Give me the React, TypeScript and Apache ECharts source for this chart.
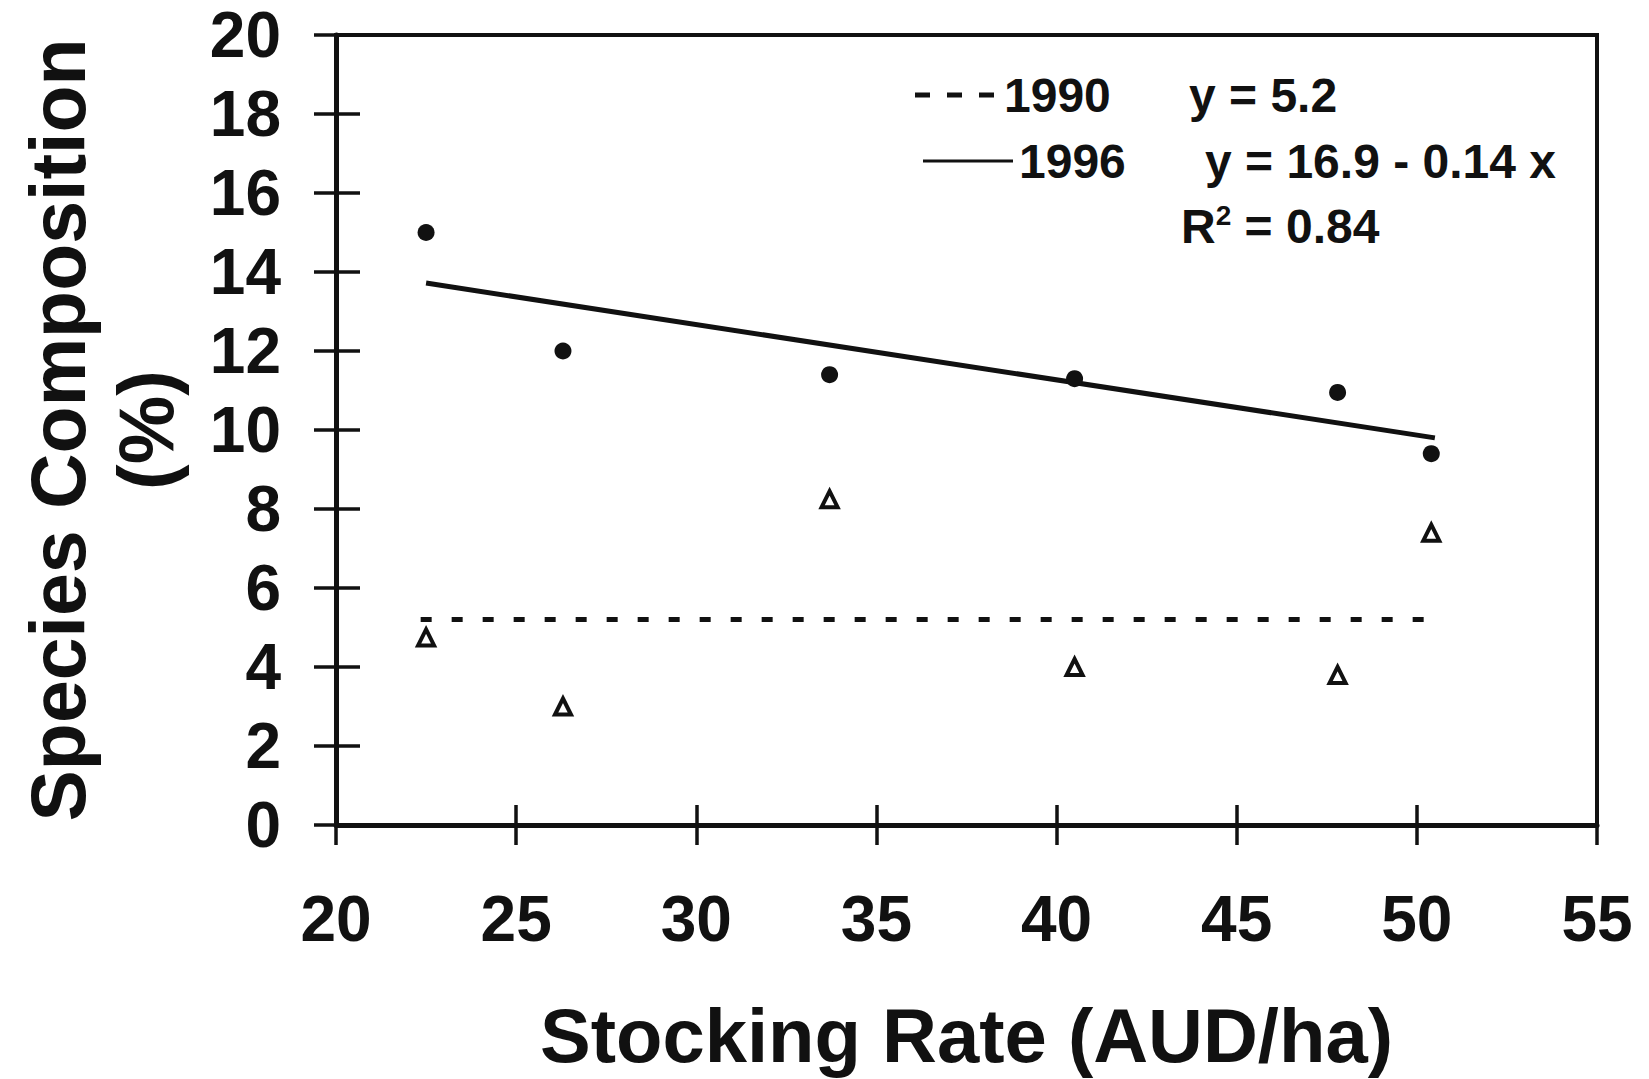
import React, { useEffect, useRef } from "react";
import * as echarts from "echarts";

// Stocking rate (AUD/ha) of each plot
const stockingRate = [22.5, 26.3, 33.7, 40.5, 47.8, 50.4];
// Species composition (%) in 1996 (filled circles)
const comp1996 = [15.0, 12.0, 11.4, 11.3, 10.95, 9.4];
// Species composition (%) in 1990 (open triangles)
const comp1990 = [4.75, 3.0, 8.25, 4.0, 3.8, 7.4];
// Fitted lines (end points)
const fit1996X = [22.5, 50.5];
const fit1996Y = [13.72, 9.8];
const fit1990X = [22.35, 50.4];
const fit1990Y = [5.2, 5.2];

const xTicks = { min: 20, max: 55, interval: 5 };
const yTicks = { min: 0, max: 20, interval: 2 };

const INK = "#111111";
const FONT = "'Liberation Sans', Arial, Helvetica, sans-serif";

export default function App() {
  const ref = useRef<HTMLDivElement>(null);

  useEffect(() => {
    if (!ref.current) return;
    const chart = echarts.init(ref.current, undefined, { renderer: "svg" });

    const pair = (xs: number[], ys: number[]) => xs.map((x, i) => [x, ys[i]]);

    const xBase = {
      type: "value",
      min: xTicks.min,
      max: xTicks.max,
      interval: xTicks.interval,
      position: "bottom",
      splitLine: { show: false },
    };
    const yBase = {
      type: "value",
      min: yTicks.min,
      max: yTicks.max,
      interval: yTicks.interval,
      position: "left",
      splitLine: { show: false },
    };

    const option = {
      animation: false,
      backgroundColor: "#ffffff",
      grid: {
        left: 336,
        right: 52,
        top: 35,
        bottom: 254,
        containLabel: false,
        outerBoundsMode: "none",
        show: true,
        borderColor: INK,
        borderWidth: 4,
        backgroundColor: "transparent",
      },
      xAxis: [
        {
          ...xBase,
          name: "Stocking Rate (AUD/ha)",
          nameLocation: "middle",
          nameGap: 172,
          nameTextStyle: {
            fontFamily: FONT,
            fontWeight: "bold",
            fontSize: 76,
            color: INK,
          },
          axisLine: { show: true, lineStyle: { color: INK, width: 5 } },
          axisTick: { show: true, inside: false, length: 20, lineStyle: { color: INK, width: 3.5 } },
          axisLabel: {
            margin: 62,
            fontFamily: FONT,
            fontWeight: "bold",
            fontSize: 64,
            color: INK,
          },
        },
        {
          ...xBase,
          axisLine: { show: false },
          axisTick: { show: true, inside: true, length: 20, lineStyle: { color: INK, width: 3.5 } },
          axisLabel: { show: false },
        },
      ],
      yAxis: [
        {
          ...yBase,
          name: "Species Composition\n(%)",
          nameLocation: "middle",
          nameRotate: 90,
          nameGap: 146,
          nameTextStyle: {
            fontFamily: FONT,
            fontWeight: "bold",
            fontSize: 77,
            lineHeight: 88,
            color: INK,
            align: "center",
          },
          axisLine: { show: true, lineStyle: { color: INK, width: 5 } },
          axisTick: { show: true, inside: false, length: 22, lineStyle: { color: INK, width: 3.5 } },
          axisLabel: {
            margin: 55,
            fontFamily: FONT,
            fontWeight: "bold",
            fontSize: 64,
            color: INK,
          },
        },
        {
          ...yBase,
          axisLine: { show: false },
          axisTick: { show: true, inside: true, length: 24, lineStyle: { color: INK, width: 3.5 } },
          axisLabel: { show: false },
        },
      ],
      series: [
        {
          name: "1990 fit",
          type: "line",
          xAxisIndex: 0,
          yAxisIndex: 0,
          data: pair(fit1990X, fit1990Y),
          showSymbol: false,
          symbol: "none",
          lineStyle: { color: INK, width: 5, type: [11, 20], opacity: 1 },
          z: 2,
        },
        {
          name: "1996 fit",
          type: "line",
          xAxisIndex: 0,
          yAxisIndex: 0,
          data: pair(fit1996X, fit1996Y),
          showSymbol: false,
          symbol: "none",
          lineStyle: { color: INK, width: 5, opacity: 1 },
          z: 2,
        },
        {
          name: "1990",
          type: "scatter",
          xAxisIndex: 0,
          yAxisIndex: 0,
          data: pair(stockingRate, comp1990),
          symbol: "triangle",
          symbolSize: 16,
          itemStyle: { color: "#ffffff", borderColor: INK, borderWidth: 4, opacity: 1 },
          z: 3,
        },
        {
          name: "1996",
          type: "scatter",
          xAxisIndex: 0,
          yAxisIndex: 0,
          data: pair(stockingRate, comp1996),
          symbol: "circle",
          symbolSize: 17,
          itemStyle: { color: INK, opacity: 1 },
          z: 3,
        },
      ],
      graphic: [
        {
          type: "line",
          shape: { x1: 915, y1: 95, x2: 994, y2: 95 },
          style: { stroke: INK, lineWidth: 5, lineDash: [15, 17] },
        },
        {
          type: "text",
          x: 1004,
          y: 95,
          style: {
            text: "1990",
            fontFamily: FONT,
            fontWeight: "bold",
            fontSize: 48,
            fill: INK,
            verticalAlign: "middle",
          },
        },
        {
          type: "text",
          x: 1189,
          y: 95,
          style: {
            text: "y = 5.2",
            fontFamily: FONT,
            fontWeight: "bold",
            fontSize: 48,
            fill: INK,
            verticalAlign: "middle",
          },
        },
        {
          type: "line",
          shape: { x1: 923, y1: 161, x2: 1013, y2: 161 },
          style: { stroke: INK, lineWidth: 3 },
        },
        {
          type: "text",
          x: 1019,
          y: 161,
          style: {
            text: "1996",
            fontFamily: FONT,
            fontWeight: "bold",
            fontSize: 48,
            fill: INK,
            verticalAlign: "middle",
          },
        },
        {
          type: "text",
          x: 1205,
          y: 161,
          style: {
            text: "y = 16.9 - 0.14 x",
            fontFamily: FONT,
            fontWeight: "bold",
            fontSize: 48,
            fill: INK,
            verticalAlign: "middle",
          },
        },
        {
          type: "text",
          x: 1181,
          y: 226,
          style: {
            text: "{b|R}{s|2}{b| = 0.84}",
            fontFamily: FONT,
            fontWeight: "bold",
            fontSize: 48,
            fill: INK,
            verticalAlign: "middle",
            rich: {
              b: { fontFamily: FONT, fontWeight: "bold", fontSize: 48, fill: INK, verticalAlign: "middle" },
              s: {
                fontFamily: FONT,
                fontWeight: "bold",
                fontSize: 28,
                fill: INK,
                verticalAlign: "top",
                padding: [0, 0, 22, 0],
              },
            },
          },
        },
      ],
    };

    chart.setOption(option as any);
    return () => chart.dispose();
  }, []);

  return (
    <div
      ref={ref}
      style={{ position: "absolute", left: 0, top: 0, width: 1649, height: 1079, background: "#fff" }}
    />
  );
}
